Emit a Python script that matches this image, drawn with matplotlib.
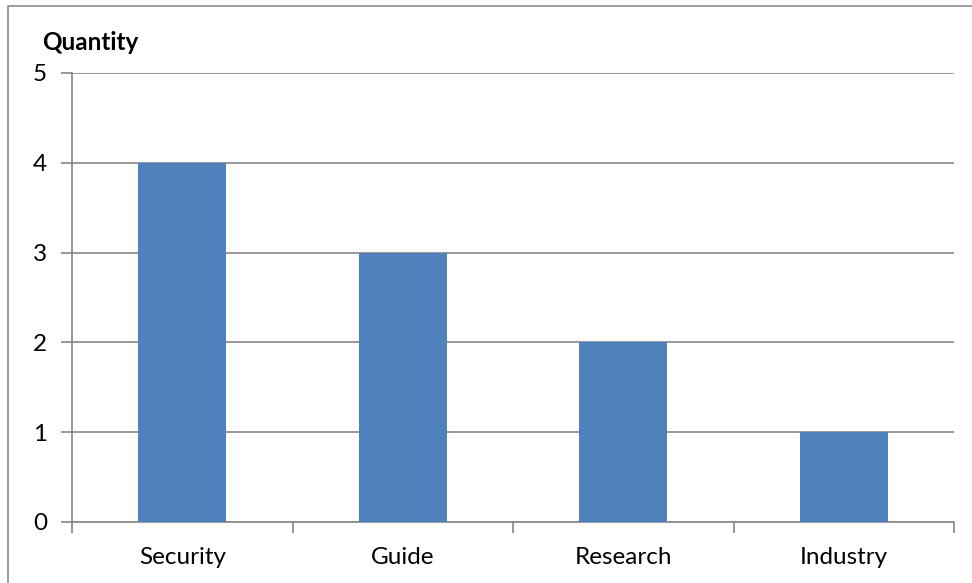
import matplotlib
matplotlib.use("Agg")
import matplotlib.pyplot as plt
from matplotlib.patches import Rectangle

categories = ["Security", "Guide", "Research", "Industry"]
values = [4, 3, 2, 1]
yticks = [0, 1, 2, 3, 4, 5]

W, H = 972, 583
fig = plt.figure(figsize=(W/100, H/100), dpi=100)
fig.patches.append(Rectangle((8/W, -0.05), 1.2, 1.05 - 6/H, transform=fig.transFigure,
                             fill=False, edgecolor="#8c8c8c", linewidth=1.2))
ax = fig.add_axes([72/W, 1 - 522/H, (954-72)/W, (522-73)/H])

x = list(range(len(categories)))
ax.bar(x, values, width=0.4, color="#4F81BD", zorder=3)
ax.set_xlim(-0.5, len(categories) - 0.5)
ax.set_ylim(0, 5)
ax.set_yticks(yticks)
ax.yaxis.grid(True, color="#868686", linewidth=1.2, zorder=0)
for s in ["top", "right"]:
    ax.spines[s].set_visible(False)
for s in ["left", "bottom"]:
    ax.spines[s].set_color("#868686")
    ax.spines[s].set_linewidth(1.2)

ax.set_xticks([i - 0.5 for i in range(len(categories) + 1)])
ax.set_xticklabels([])
ax.set_xticks(x, minor=True)
ax.set_xticklabels(categories, minor=True, fontsize=17.5, family="Lato")
ax.tick_params(axis="x", which="minor", length=0, pad=18)
ax.tick_params(axis="x", which="major", length=8, color="#868686", width=1.2)
ax.tick_params(axis="y", length=8, color="#868686", width=1.2, labelsize=17.5, pad=10)
for lab in ax.get_yticklabels():
    lab.set_family("Lato")

fig.text(42/W, 1 - 42/H, "Quantity", fontsize=17.5, fontweight="bold", family="Lato",
         ha="left", va="center")

fig.savefig("out.png", dpi=100)
